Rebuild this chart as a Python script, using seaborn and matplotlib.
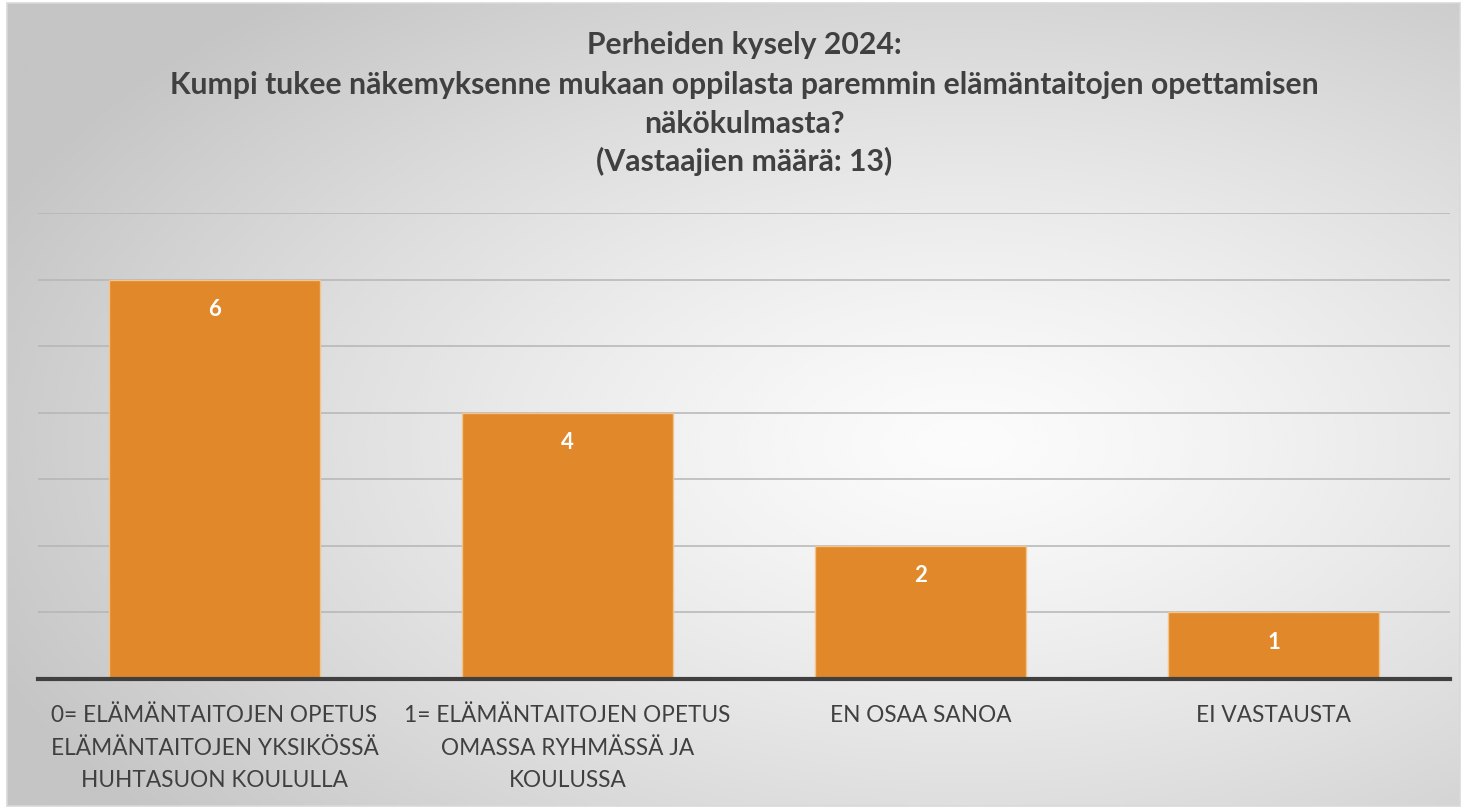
import matplotlib
matplotlib.use("Agg")
import matplotlib.pyplot as plt
import seaborn as sns
import pandas as pd
import numpy as np
from matplotlib.patches import Rectangle

# data
categories = [
    "0= ELÄMÄNTAITOJEN OPETUS\nELÄMÄNTAITOJEN YKSIKÖSSÄ\nHUHTASUON KOULULLA",
    "1= ELÄMÄNTAITOJEN OPETUS\nOMASSA RYHMÄSSÄ JA\nKOULUSSA",
    "EN OSAA SANOA",
    "EI VASTAUSTA",
]
counts = [6, 4, 2, 1]
title_lines = [
    "Perheiden kysely 2024:",
    "Kumpi tukee näkemyksenne mukaan oppilasta paremmin elämäntaitojen opettamisen",
    "näkökulmasta?",
    "(Vastaajien määrä: 13)",
]

df = pd.DataFrame({"cat": categories, "n": counts})

sns.set_theme(style="white")
plt.rcParams["font.family"] = ["Lato", "DejaVu Sans"]

W, H = 1466, 809
fig = plt.figure(figsize=(W / 100, H / 100), dpi=100)
fig.patch.set_facecolor("white")

# radial grey background
bg = fig.add_axes([7 / W, 1 - 806 / H, (1460 - 7) / W, (806 - 3) / H], zorder=0)
yy, xx = np.mgrid[0:1:300j, 0:1:500j]
r = np.sqrt(((xx - 0.66) / 0.75) ** 2 + ((yy - 0.55) / 0.75) ** 2)
val = np.clip(0.985 - 0.22 * r ** 1.3, 0.77, 1.0)
bg.imshow(val, cmap="gray", vmin=0, vmax=1, aspect="auto", extent=[0, 1, 1, 0],
          interpolation="bicubic")
bg.set_axis_off()
fig.patches.append(Rectangle((7 / W, 1 - 806 / H), (1460 - 7) / W, (806 - 3) / H,
                             transform=fig.transFigure, fill=False,
                             edgecolor="#d9d9d9", lw=1.2, zorder=5))

ax = fig.add_axes([38 / W, 1 - 679 / H, (1450 - 38) / W, (679 - 213) / H], zorder=1)
ax.patch.set_alpha(0)
sns.barplot(data=df, x="cat", y="n", color="#E0882A", saturation=1, width=0.6,
            edgecolor="#F3C48C", linewidth=1, ax=ax, zorder=3)
ax.set_ylim(0, 7)
ax.set_xlim(-0.5, 3.5)
ax.set_yticks(range(1, 8))
ax.set_yticklabels([])
ax.tick_params(axis="y", length=0)
ax.tick_params(axis="x", length=0, pad=19)
ax.grid(axis="y", color="#b5b5b5", lw=1.1, zorder=0)
for s in ["top", "right", "left"]:
    ax.spines[s].set_visible(False)
ax.spines["bottom"].set_color("#404040")
ax.spines["bottom"].set_linewidth(3)
ax.spines["bottom"].set_zorder(4)
ax.set_xlabel("")
ax.set_ylabel("")
for lbl in ax.get_xticklabels():
    lbl.set_fontsize(16.3)
    lbl.set_color("#404040")
    lbl.set_linespacing(1.66)
    lbl.set_verticalalignment("top")

for i, v in enumerate(counts):
    ax.text(i, v - 0.45, str(v), ha="center", va="center", color="white",
            fontsize=16, fontweight="bold", zorder=5)

ys = [45, 85, 124, 161]
for t, y in zip(title_lines, ys):
    fig.text(744 / W, 1 - y / H, t, ha="center", va="center", fontsize=21.7,
             fontweight="bold", color="#404040", zorder=6)

fig.savefig("out.png", dpi=100)
